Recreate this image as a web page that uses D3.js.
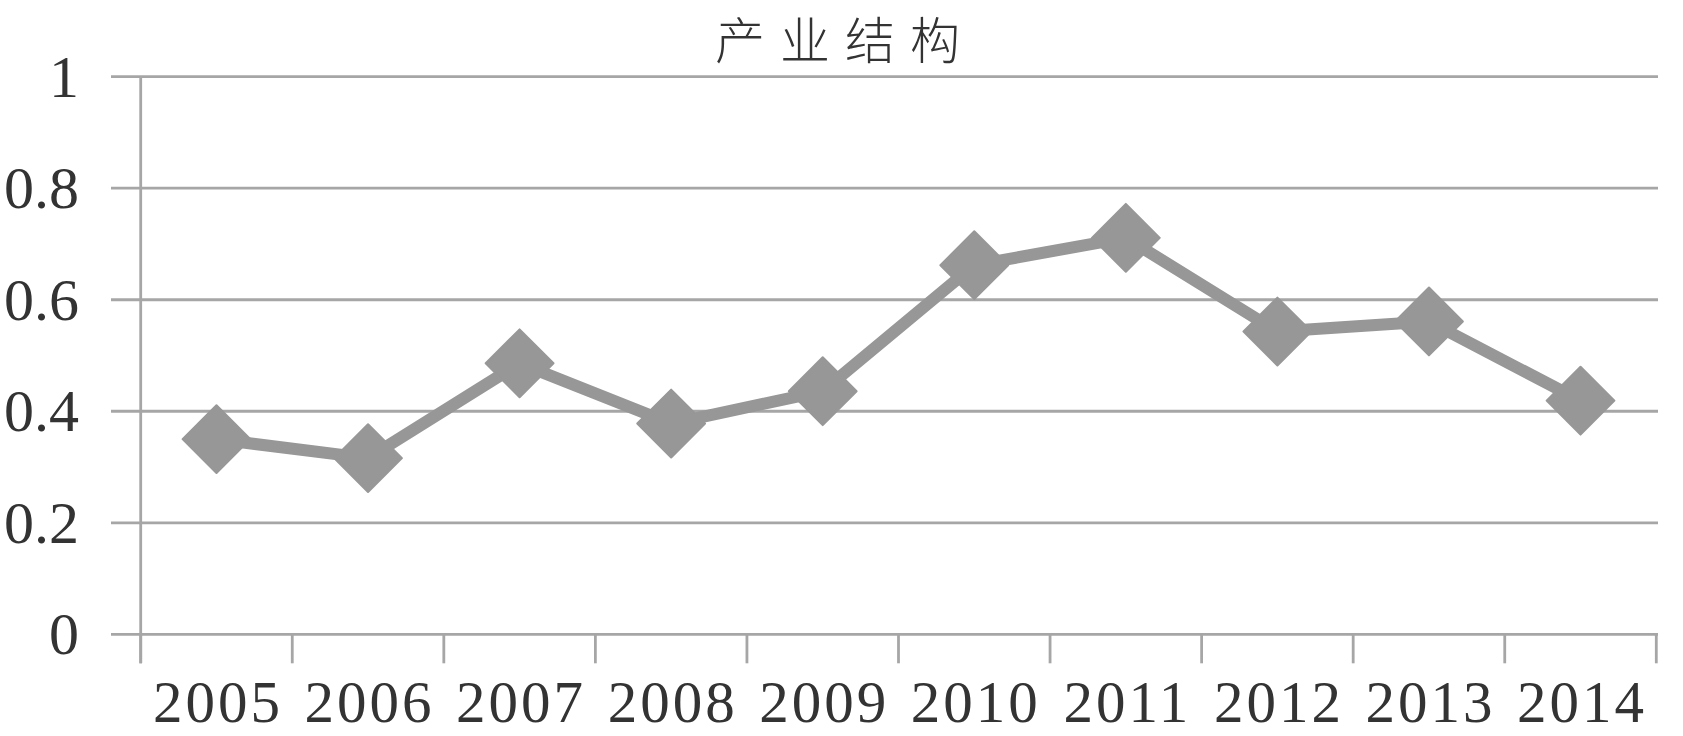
<!DOCTYPE html>
<html>
<head>
<meta charset="utf-8">
<script src="https://cdn.jsdelivr.net/npm/d3@7"></script>
<style>
  html, body { margin: 0; padding: 0; background: #fff; }
  svg { display: block; }
</style>
</head>
<body>
<script>
// ---- Data ----
const title = "产业结构";
const years = ["2005","2006","2007","2008","2009","2010","2011","2012","2013","2014"];
const values = [0.350, 0.316, 0.486, 0.378, 0.436, 0.662, 0.711, 0.543, 0.561, 0.419];
const yTicks = [0, 0.2, 0.4, 0.6, 0.8, 1];
const yTickLabels = ["0", "0.2", "0.4", "0.6", "0.8", "1"];

// ---- Layout ----
const W = 1683, H = 736;
const plotLeft = 140.7, plotRight = 1656.3;
const plotTop = 76.7, plotBottom = 634.3;
const gridLeft = 111, gridRight = 1658;
const tickLen = 29;

const svg = d3.select("body").append("svg")
  .attr("width", W).attr("height", H);

const x = d3.scaleBand().domain(years).range([plotLeft, plotRight]).padding(0);
const y = d3.scaleLinear().domain([0, 1]).range([plotBottom, plotTop]);

const gridColor = "#a6a6a6";
const textColor = "#333333";
const seriesColor = "#979797";

// Horizontal gridlines (incl. the category axis at 0)
svg.append("g").selectAll("line").data(yTicks).join("line")
  .attr("x1", gridLeft).attr("x2", gridRight)
  .attr("y1", d => y(d)).attr("y2", d => y(d))
  .attr("stroke", gridColor).attr("stroke-width", 2.8);

// Value axis line
svg.append("line")
  .attr("x1", plotLeft).attr("x2", plotLeft)
  .attr("y1", y(1)).attr("y2", y(0) + tickLen)
  .attr("stroke", gridColor).attr("stroke-width", 2.8);

// Category boundary tick marks
const boundaries = years.map(d => x(d)).concat([x.range()[1]]);
svg.append("g").selectAll("line").data(boundaries).join("line")
  .attr("x1", d => d).attr("x2", d => d)
  .attr("y1", y(0)).attr("y2", y(0) + tickLen)
  .attr("stroke", gridColor).attr("stroke-width", 2.8);

// Y tick labels
svg.append("g").selectAll("text").data(yTicks).join("text")
  .attr("x", 79)
  .attr("y", d => y(d) + 20)
  .attr("text-anchor", "end")
  .attr("font-family", "'Liberation Serif', 'Times New Roman', serif")
  .attr("font-size", 60)
  .attr("fill", textColor)
  .text((d, i) => yTickLabels[i]);

// X tick labels
svg.append("g").selectAll("text").data(years).join("text")
  .attr("x", d => x(d) + x.bandwidth() / 2 + 1.5)
  .attr("y", 722)
  .attr("text-anchor", "middle")
  .attr("font-family", "'Liberation Serif', 'Times New Roman', serif")
  .attr("font-size", 59)
  .attr("letter-spacing", 3)
  .attr("fill", textColor)
  .text(d => d);

// Title
svg.append("text")
  .attr("x", 845)
  .attr("y", 59)
  .attr("text-anchor", "middle")
  .attr("font-family", "'Noto Sans CJK SC', sans-serif")
  .attr("font-size", 50)
  .attr("font-weight", 300)
  .attr("letter-spacing", 15)
  .attr("fill", textColor)
  .text(title);

// Series line
const pts = years.map((d, i) => ({ year: d, v: values[i] }));
const line = d3.line()
  .x(d => x(d.year) + x.bandwidth() / 2)
  .y(d => y(d.v));

svg.append("path")
  .datum(pts)
  .attr("d", line)
  .attr("fill", "none")
  .attr("stroke", seriesColor)
  .attr("stroke-width", 12)
  .attr("stroke-linejoin", "round");

// Diamond markers
const sym = d3.symbol().type(d3.symbolSquare).size(2300);
svg.append("g").selectAll("path").data(pts).join("path")
  .attr("d", sym)
  .attr("transform", d => `translate(${x(d.year) + x.bandwidth() / 2},${y(d.v)}) rotate(45)`)
  .attr("fill", seriesColor)
  .attr("stroke", seriesColor)
  .attr("stroke-width", 2)
  .attr("stroke-linejoin", "round");
</script>
</body>
</html>
